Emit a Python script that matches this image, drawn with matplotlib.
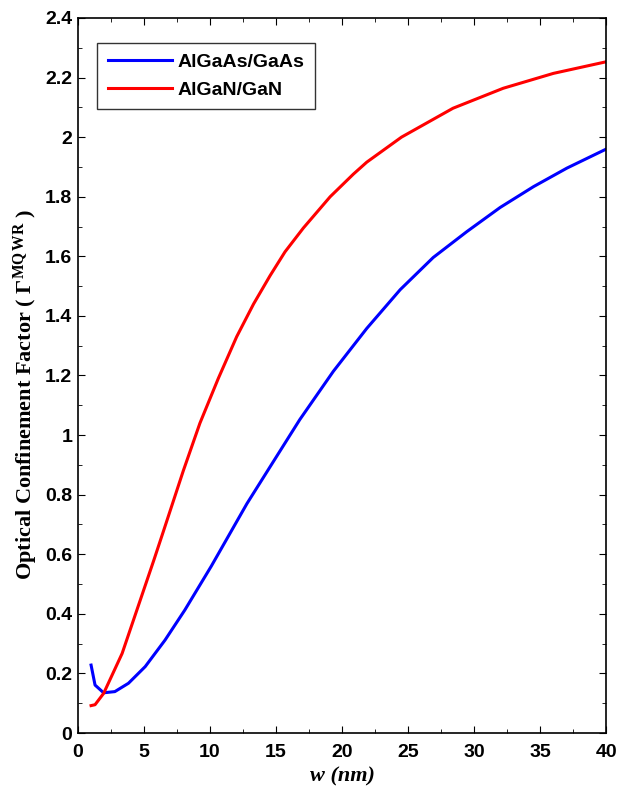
import matplotlib.pyplot as plt
from matplotlib.ticker import MultipleLocator

# well width (nm) and confinement factor
w_gaas = [1, 1.3, 1.95, 2.8, 3.83, 5.1, 6.6, 8.1, 10.1, 12.8, 15.04, 16.8, 19.34, 21.87,
          24.4, 26.9, 29.45, 31.97, 34.5, 37.02, 40]
g_gaas = [0.228, 0.161, 0.135, 0.139, 0.167, 0.223, 0.312, 0.413, 0.56, 0.77, 0.928, 1.052,
          1.214, 1.358, 1.488, 1.596, 1.683, 1.764, 1.834, 1.896, 1.96]
w_gan = [1, 1.3, 1.95, 3.35, 4.6, 5.75, 6.46, 7.98, 9.24, 10.63, 12.02, 13.3, 14.55, 15.68,
         17.07, 19.1, 20.86, 21.87, 24.5, 28.4, 32.2, 36, 40]
g_gan = [0.092, 0.095, 0.133, 0.267, 0.43, 0.58, 0.675, 0.88, 1.04, 1.19, 1.33, 1.44, 1.535,
         1.615, 1.695, 1.80, 1.876, 1.916, 2.0, 2.097, 2.164, 2.214, 2.253]

plt.rcParams['font.family'] = 'Liberation Sans'
plt.rcParams['font.weight'] = 'bold'
plt.rcParams['mathtext.fontset'] = 'custom'
plt.rcParams['mathtext.rm'] = 'Liberation Serif:bold'
plt.rcParams['mathtext.bf'] = 'Liberation Serif:bold'
plt.rcParams['mathtext.it'] = 'Liberation Serif:italic:bold'

fig = plt.figure(figsize=(6.18, 7.91), dpi=100)
ax = fig.add_axes([0.126, 0.0733, 0.855, 0.904])

ax.plot(w_gaas, g_gaas, color='#0000ff', lw=2.2, label='AlGaAs/GaAs')
ax.plot(w_gan, g_gan, color='#ff0000', lw=2.2, label='AlGaN/GaN')

ax.set_xlim(0, 40)
ax.set_ylim(0, 2.4)
ax.xaxis.set_major_locator(MultipleLocator(5))
ax.xaxis.set_minor_locator(MultipleLocator(2.5))
ax.yaxis.set_major_locator(MultipleLocator(0.2))
ax.yaxis.set_minor_locator(MultipleLocator(0.1))
ax.tick_params(which='both', direction='in', top=True, right=True, labelsize=14)
ax.tick_params(which='major', length=5)
ax.tick_params(which='minor', length=3)
ax.tick_params(axis='x', pad=8)
ax.tick_params(axis='y', pad=4)
ax.yaxis.set_major_formatter(lambda v, p: f'{v:g}')
for s in ax.spines.values():
    s.set_linewidth(1.2)

ax.set_xlabel('w (nm)', family='Liberation Serif', style='italic', weight='bold', fontsize=16,
              labelpad=4)
ax.set_ylabel(r'Optical Confinement Factor ( $\Gamma^{\rm MQ\,WR}$ )',
              family='Liberation Serif', weight='bold', fontsize=16, labelpad=4)
ax.yaxis.label.set_y(0.473)

leg = ax.legend(loc='upper left', bbox_to_anchor=(0.036, 0.965), borderaxespad=0,
                fontsize=14, frameon=True, fancybox=False, edgecolor='black',
                handlelength=3.3, handletextpad=0.3, borderpad=0.55, labelspacing=0.5)
leg.get_frame().set_linewidth(1.0)

fig.savefig('out.png', dpi=100)
